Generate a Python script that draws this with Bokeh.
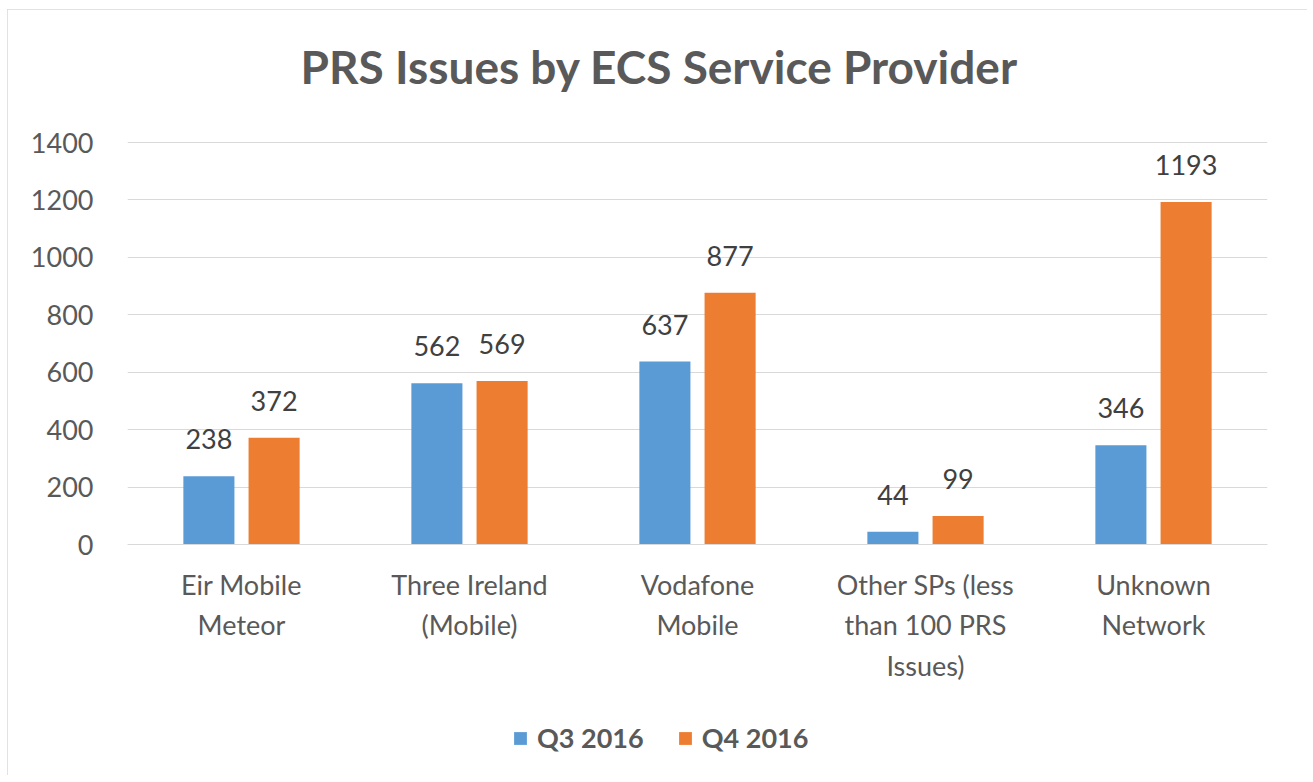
from bokeh.plotting import figure
from bokeh.models import (ColumnDataSource, Legend, LegendItem, Title, FactorRange, Range1d,
                          FixedTicker)
from bokeh.transform import dodge
from bokeh.core.properties import value
from bokeh.embed import file_html
from bokeh.resources import INLINE

# ---- data ----
categories = ["Eir Mobile\nMeteor", "Three Ireland\n(Mobile)", "Vodafone\nMobile",
              "Other SPs (less\nthan 100 PRS\nIssues)", "Unknown\nNetwork"]
q3_2016 = [238, 562, 637, 44, 346]
q4_2016 = [372, 569, 877, 99, 1193]
series_names = ["Q3 2016", "Q4 2016"]
y_ticks = [0, 200, 400, 600, 800, 1000, 1200, 1400]
title_text = "PRS Issues by ECS Service Provider"

FONT = "Lato"
BLUE = "#5B9BD5"
ORANGE = "#ED7D31"
GRID = "#D9D9D9"
TXT = "#595959"

# layout (pixels): value axis 0..1400 spans 402 px; frame extends a little above
# the top tick and well below zero (room for category labels + legend)
PLOT_H, TOP, BOTTOM = 766, 110, 5
AXIS_PX, ABOVE_TOP_PX, BELOW_ZERO_PX = 402, 23, 226
units_per_px = y_ticks[-1] / AXIS_PX
y_min = -BELOW_ZERO_PX * units_per_px
y_max = y_ticks[-1] + ABOVE_TOP_PX * units_per_px

src = ColumnDataSource(dict(
    cat=categories,
    q3=q3_2016, q4=q4_2016,
    q3_lbl=[str(v) for v in q3_2016],
    q4_lbl=[str(v) for v in q4_2016],
))

p = figure(
    width=1300, height=PLOT_H,
    x_range=FactorRange(*categories, range_padding=0),
    y_range=Range1d(y_min, y_max),
    output_backend="svg", toolbar_location=None,
    min_border_left=120, min_border_right=40,
    min_border_top=TOP, min_border_bottom=BOTTOM,
)
p.styles = {"outline": "1px solid #D9D9D9", "outline-offset": "-1px",
            "margin-left": "7px", "margin-top": "9px"}
p.outline_line_color = None
p.background_fill_color = "white"
p.border_fill_color = "white"

t = Title(text=title_text, align="left", text_font=FONT, text_font_size="46px",
          text_font_style="bold", text_color=TXT, offset=173, standoff=52)
p.add_layout(t, "above")

r1 = p.vbar(x=dodge("cat", -0.143, range=p.x_range), top="q3", width=0.224,
            source=src, color=BLUE, line_color=None)
r2 = p.vbar(x=dodge("cat", 0.143, range=p.x_range), top="q4", width=0.224,
            source=src, color=ORANGE, line_color=None)

for col, off in (("q3", -0.143), ("q4", 0.143)):
    p.text(x=dodge("cat", off, range=p.x_range), y=col, text=col + "_lbl", source=src,
           text_align="center", text_baseline="alphabetic", y_offset=-37,
           text_font=value(FONT), text_font_size="27px", text_color="#404040")

# y axis
p.yaxis.ticker = FixedTicker(ticks=y_ticks)
p.yaxis.axis_line_color = None
p.yaxis.major_tick_line_color = None
p.yaxis.minor_tick_line_color = None
p.yaxis.major_label_standoff = 28
p.yaxis.major_label_text_font = FONT
p.yaxis.major_label_text_font_size = "27px"
p.yaxis.major_label_text_color = TXT

# x axis, drawn along the zero line
p.xaxis.fixed_location = 0
p.xaxis.axis_line_color = GRID
p.xaxis.major_tick_line_color = None
p.xaxis.minor_tick_line_color = None
p.xaxis.major_label_standoff = 17
p.xaxis.major_label_text_font = FONT
p.xaxis.major_label_text_font_size = "27px"
p.xaxis.major_label_text_color = TXT
p.xaxis.major_label_text_line_height = 1.23

p.xgrid.grid_line_color = None
p.ygrid.grid_line_color = GRID
p.ygrid.grid_line_width = 1

legend = Legend(items=[LegendItem(label=series_names[0], renderers=[r1]),
                       LegendItem(label=series_names[1], renderers=[r2])],
                orientation="horizontal", location=(385, 16), margin=0, padding=0,
                glyph_width=16, glyph_height=16, label_standoff=9, spacing=33,
                label_text_font=FONT, label_text_font_size="27px",
                label_text_font_style="bold", label_text_color=TXT,
                border_line_color=None, background_fill_alpha=0)
p.add_layout(legend, "center")

open("out.html", "w").write(file_html(p, INLINE))
